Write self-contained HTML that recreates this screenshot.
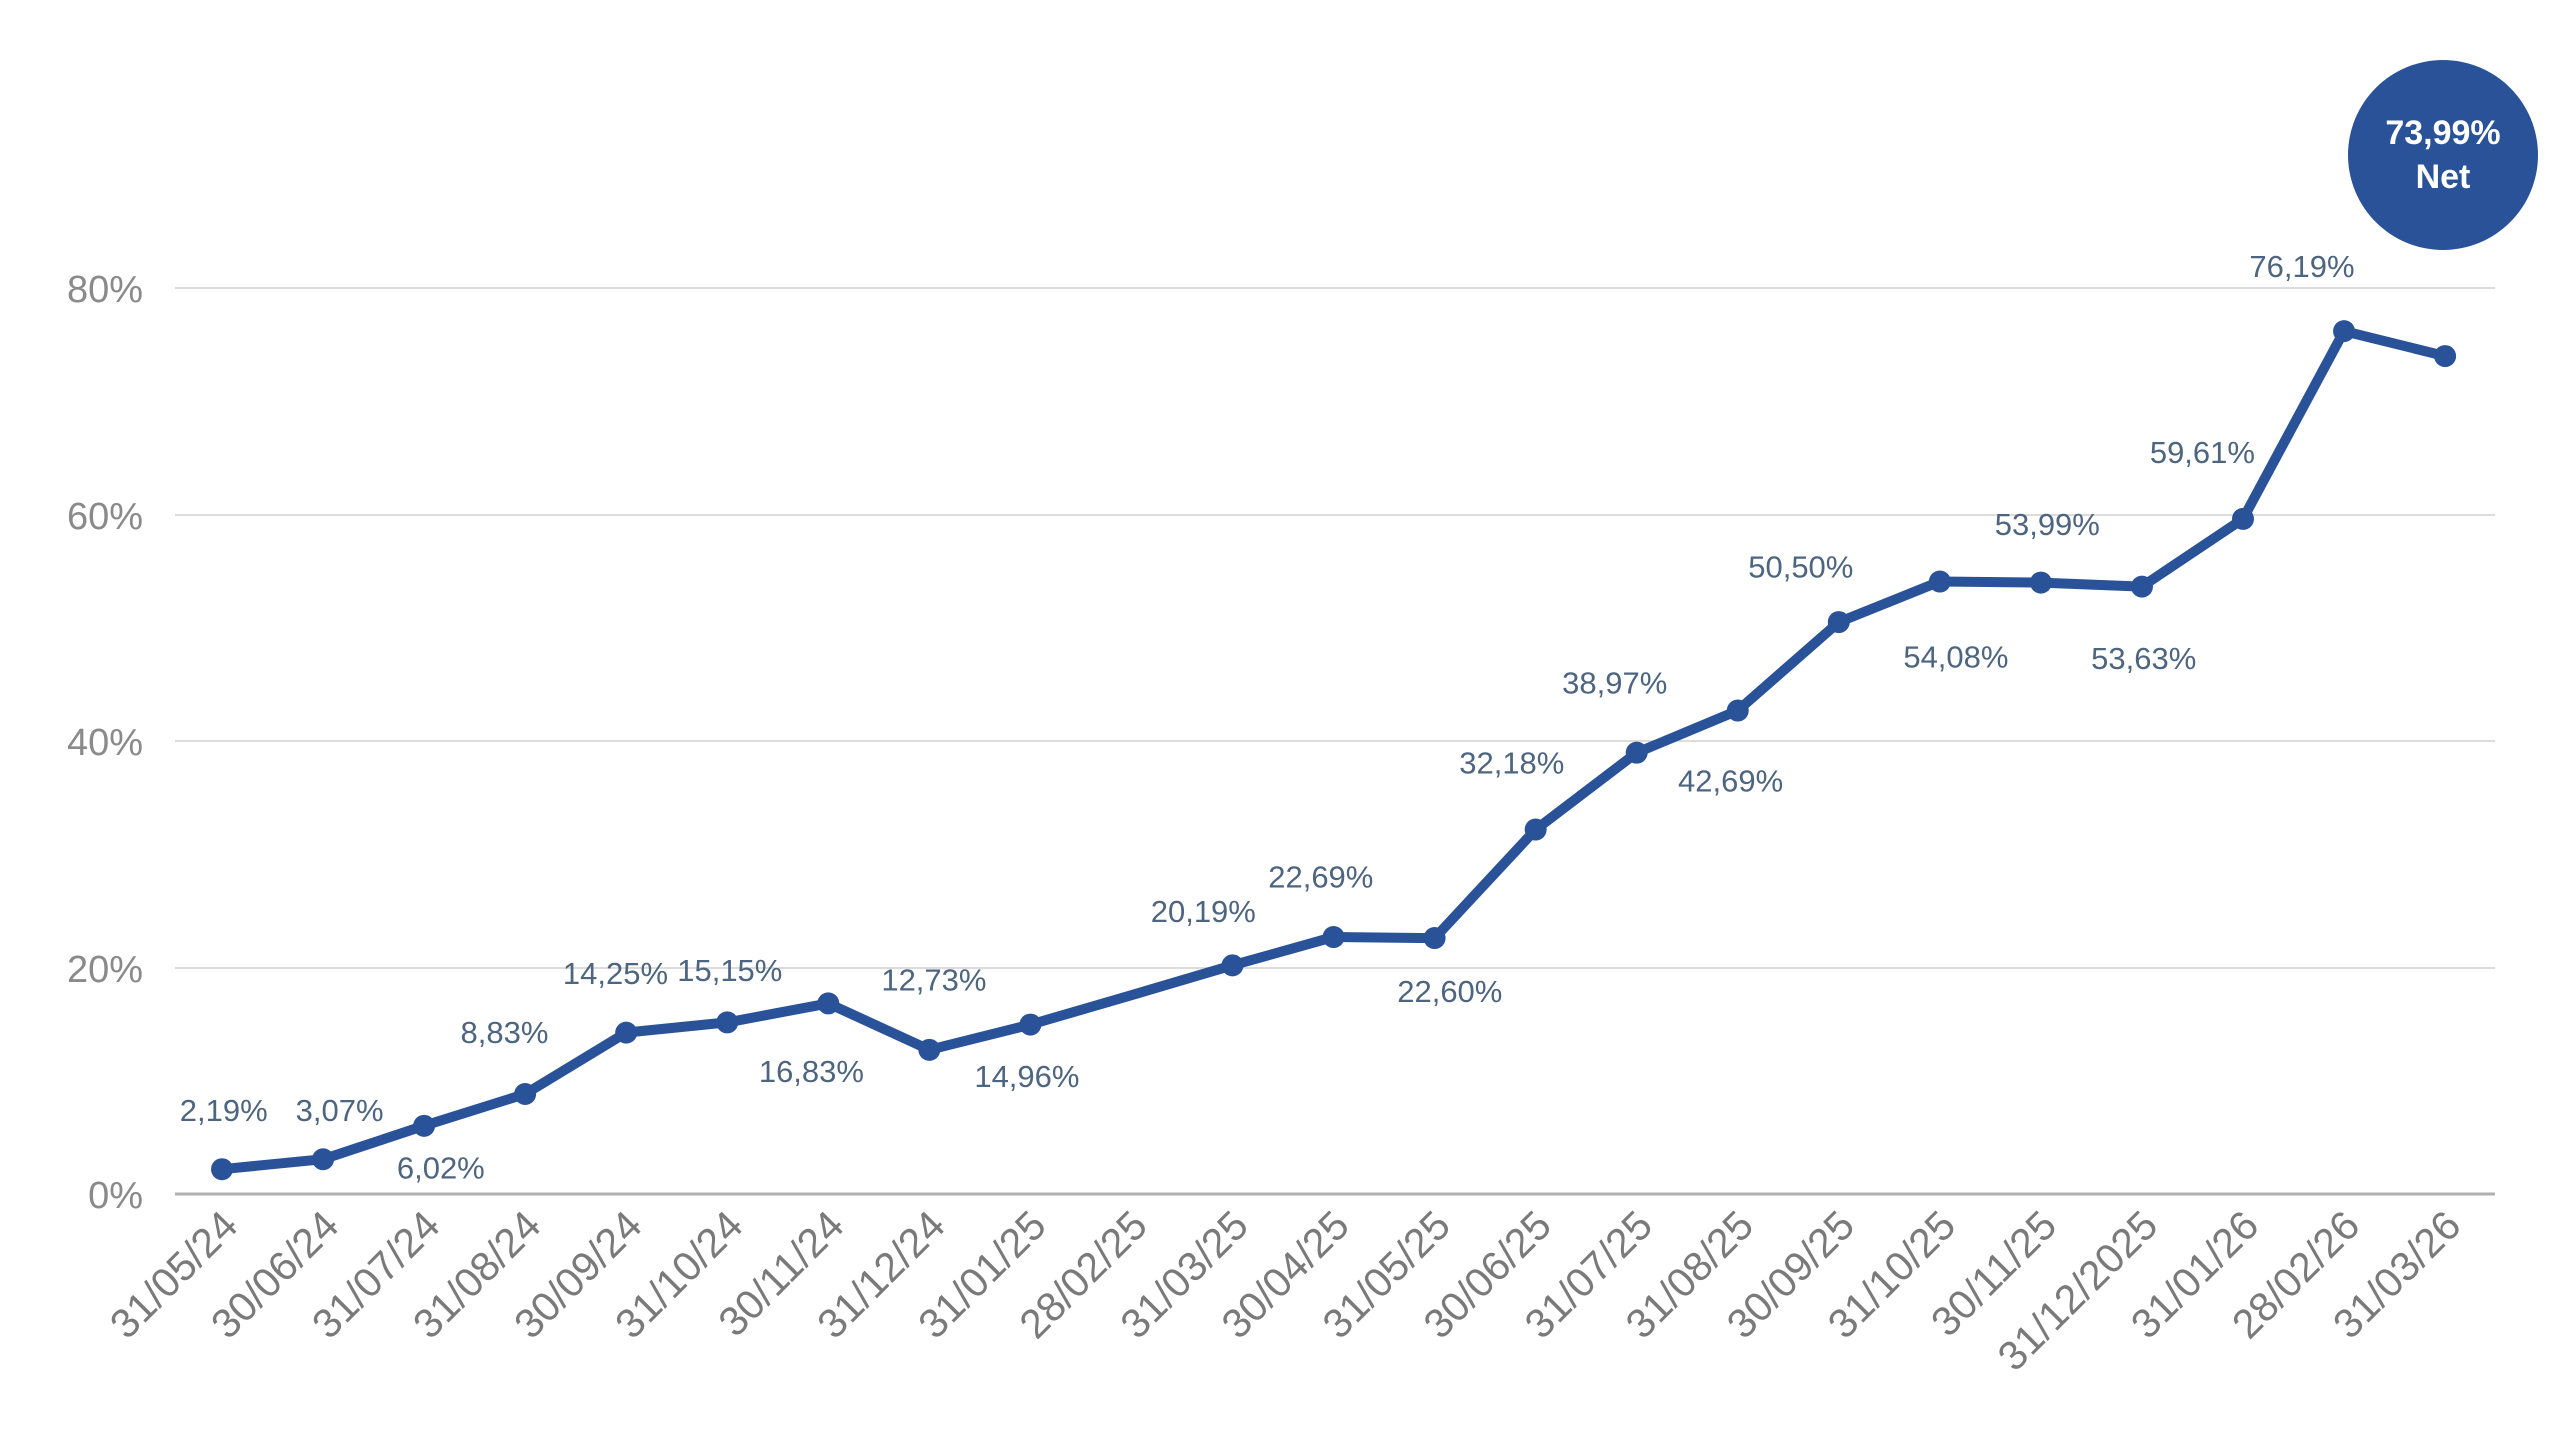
<!DOCTYPE html>
<html><head><meta charset="utf-8"><style>
html,body{margin:0;padding:0;background:#fff;}
svg{display:block;}
</style></head><body>
<svg id="c" width="2560" height="1450" xmlns="http://www.w3.org/2000/svg" font-family="Liberation Sans, sans-serif">
<g stroke="#dcdcdc" stroke-width="2">
<line x1="175" y1="288" x2="2495" y2="288"/>
<line x1="175" y1="515" x2="2495" y2="515"/>
<line x1="175" y1="741" x2="2495" y2="741"/>
<line x1="175" y1="968" x2="2495" y2="968"/>
</g>
<line x1="175" y1="1194" x2="2495" y2="1194" stroke="#b0b0b0" stroke-width="3"/>
<g fill="#8a8a8a" font-size="38" text-anchor="end">
<text x="143" y="302">80%</text>
<text x="143" y="529">60%</text>
<text x="143" y="755">40%</text>
<text x="143" y="982">20%</text>
<text x="143" y="1208">0%</text>
</g>
<g id="xl" fill="#7a7a7a" font-size="41" text-anchor="end"></g>
<polyline id="ln" fill="none" stroke="#2a5298" stroke-width="10" stroke-linejoin="round" stroke-linecap="round"/>
<g id="pts" fill="#2a5298"></g>
<g id="dl" fill="#4e6580" font-size="31" text-anchor="middle"></g>
<circle cx="2443" cy="155" r="95" fill="#2a5298"/>
<text x="2443" y="144" fill="#fff" font-size="34" font-weight="bold" text-anchor="middle">73,99%</text>
<text x="2443" y="188" fill="#fff" font-size="34" font-weight="bold" text-anchor="middle">Net</text>
</svg>
<script>
var dates=["31/05/24","30/06/24","31/07/24","31/08/24","30/09/24","31/10/24","30/11/24","31/12/24","31/01/25","28/02/25","31/03/25","30/04/25","31/05/25","30/06/25","31/07/25","31/08/25","30/09/25","31/10/25","30/11/25","31/12/2025","31/01/26","28/02/26","31/03/26"];
var v=[2.19,3.07,6.02,8.83,14.25,15.15,16.83,12.73,14.96,17.55,20.19,22.69,22.60,32.18,38.97,42.69,50.50,54.08,53.99,53.63,59.61,76.19,73.99];
var lab=["2,19%","3,07%","6,02%","8,83%","14,25%","15,15%","16,83%","12,73%","14,96%",null,"20,19%","22,69%","22,60%","32,18%","38,97%","42,69%","50,50%","54,08%","53,99%","53,63%","59,61%","76,19%",null];
var lx=[137,208,270,309,377,447,497,572,629,0,737,809,888,926,989,1060,1103,1198,1254,1313,1349,1410,0];
var ly=[680,680,715,632,596,594,656,600,659,0,558,537,607,467,418,478,347,402,321,403,277,163,0];
var s=2560/1568,ns="http://www.w3.org/2000/svg",p=[];
function el(t,a,par,txt){var e=document.createElementNS(ns,t);for(var k in a)e.setAttribute(k,a[k]);if(txt)e.textContent=txt;document.getElementById(par).appendChild(e);}
for(var i=0;i<23;i++){var x=222+i*101.05,y=1194-v[i]*11.325;p.push(x.toFixed(1)+","+y.toFixed(1));
if(i!==9)el("circle",{cx:x,cy:y,r:11},"pts");
el("text",{x:0,y:0,transform:"translate("+(x+18)+",1228) rotate(-45)"},"xl",dates[i]);
if(lab[i])el("text",{x:(lx[i]*s).toFixed(1),y:(ly[i]*s+11).toFixed(1)},"dl",lab[i]);}
document.getElementById("ln").setAttribute("points",p.join(" "));
</script>
</body></html>
